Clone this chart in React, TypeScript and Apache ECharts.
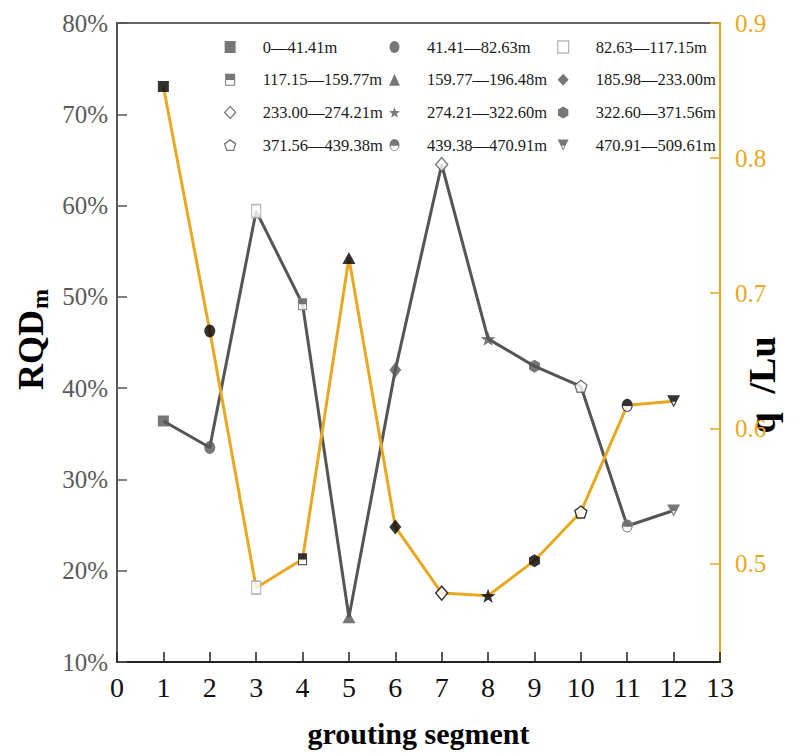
import React, { useEffect, useRef } from 'react';
import * as echarts from 'echarts';

// Depth interval of each grouting segment (legend entries, in segment order)
const segmentLabels = [
  '0—41.41m',
  '41.41—82.63m',
  '82.63—117.15m',
  '117.15—159.77m',
  '159.77—196.48m',
  '185.98—233.00m',
  '233.00—274.21m',
  '274.21—322.60m',
  '322.60—371.56m',
  '371.56—439.38m',
  '439.38—470.91m',
  '470.91—509.61m',
];
const segmentNo = [1, 2, 3, 4, 5, 6, 7, 8, 9, 10, 11, 12];
// RQDm (%) per segment, left axis
const rqdValues = [36.4, 33.5, 59.4, 49.2, 14.9, 42.0, 64.5, 45.4, 42.4, 40.2, 24.9, 26.6];
// q (Lu) per segment, right axis
const qLuValues = [0.853, 0.672, 0.482, 0.503, 0.726, 0.527, 0.478, 0.476, 0.502, 0.538, 0.617, 0.62];
const qLuTicks = [0.5, 0.6, 0.7, 0.8, 0.9];

const GRAY = '#555555';
const YELLOW = '#E8A822';
const FONT = '"Liberation Serif", "Times New Roman", serif';

// Marker outlines
const ELLIPSE = 'path://M0 6A5 6 0 0 1 10 6A5 6 0 0 1 0 6Z';
const DOWN_TRI = 'path://M0 0L12 0L6 12Z';
const STAR =
  'path://M10 0L12.35 6.76L19.51 6.91L13.8 11.24L15.88 18.09L10 14L4.12 18.09L6.2 11.24L0.49 6.91L7.65 6.76Z';
const HEX = 'path://M10 0L18.66 5L18.66 15L10 20L1.34 15L1.34 5Z';
const PENT = 'path://M10 0L19.51 6.91L15.88 18.09L4.12 18.09L0.49 6.91Z';
// Half-filled markers: solid upper half, outlined lower half (inner hole)
const HALF_RECT = 'path://M0 0L10 0L10 12L0 12Z M1 6.2L1 11L9 11L9 6.2Z';
const HALF_ELLIPSE = 'path://M0 6A5 6 0 0 1 10 6A5 6 0 0 1 0 6Z M1.1 6.6A3.9 4.6 0 0 0 8.9 6.6Z';
const HALF_DOWN_TRI = 'path://M0 0L12 0L6 12Z M4.5 6.6L6 9.7L7.5 6.6Z';

type Marker = {
  symbol: string;
  size: [number, number];
  fill: 'solid' | 'open' | 'half';
  edge?: string;
  half?: string;
};

const markers: Marker[] = [
  { symbol: 'rect', size: [11, 11], fill: 'solid' },
  { symbol: ELLIPSE, size: [11, 13], fill: 'solid' },
  { symbol: 'rect', size: [9, 13], fill: 'open', edge: '#a8a8a8' },
  { symbol: 'rect', size: [9, 12], fill: 'half', half: HALF_RECT },
  { symbol: 'triangle', size: [13, 12], fill: 'solid' },
  { symbol: 'diamond', size: [12, 15], fill: 'solid' },
  { symbol: 'diamond', size: [12, 14], fill: 'open' },
  { symbol: STAR, size: [15, 14], fill: 'solid' },
  { symbol: HEX, size: [11, 13], fill: 'solid' },
  { symbol: PENT, size: [12, 12], fill: 'open' },
  { symbol: ELLIPSE, size: [11, 13], fill: 'half', half: HALF_ELLIPSE },
  { symbol: DOWN_TRI, size: [13, 12], fill: 'half', half: HALF_DOWN_TRI },
];

function markerSeries(values: number[], yAxisIndex: number, ink: string) {
  const out: any[] = [];
  markers.forEach((m, i) => {
    const point = [[segmentNo[i], values[i]]];
    out.push({
      type: 'scatter',
      name: segmentLabels[i],
      yAxisIndex,
      data: point,
      symbol: m.symbol,
      symbolSize: m.size,
      z: 4,
      emphasis: { disabled: true },
      itemStyle:
        m.fill === 'solid'
          ? { color: ink, borderWidth: 0 }
          : m.fill === 'open'
          ? { color: '#ffffff', borderColor: m.edge ?? ink, borderWidth: 1.4 }
          : { color: '#ffffff', borderWidth: 0 },
    });
    if (m.fill === 'half') {
      out.push({
        type: 'scatter',
        name: segmentLabels[i],
        yAxisIndex,
        data: point,
        symbol: m.half,
        symbolSize: m.size,
        z: 5,
        emphasis: { disabled: true },
        itemStyle: { color: ink, borderWidth: 0 },
      });
    }
  });
  return out;
}

function legendColumn(indices: number[], left: number) {
  return {
    orient: 'vertical',
    left,
    top: 32,
    itemWidth: 11,
    itemHeight: 12,
    itemGap: 12.7,
    selectedMode: false,
    itemStyle: { borderWidth: 1.3 },
    textStyle: {
      fontFamily: FONT,
      fontSize: 16.5,
      color: '#1a1a1a',
      lineHeight: 20,
      padding: [0, 0, 0, 22],
    },
    data: indices.map((i) => {
      const m = markers[i];
      if (m.fill === 'half') {
        return { name: segmentLabels[i], icon: m.half, itemStyle: { color: GRAY, borderWidth: 0 } };
      }
      return { name: segmentLabels[i] };
    }),
  };
}

export default function App() {
  const ref = useRef<HTMLDivElement>(null);

  useEffect(() => {
    document.body.style.margin = '0';
    if (!ref.current) return;
    const chart = echarts.init(ref.current, null, { renderer: 'svg' });

    const option: any = {
      animation: false,
      backgroundColor: '#ffffff',
      grid: {
        left: 117,
        right: 80,
        top: 23,
        bottom: 94,
        show: true,
        borderColor: '#333333',
        borderWidth: 1.5,
        outerBoundsMode: 'none',
      },
      legend: [
        legendColumn([0, 3, 6, 9], 219),
        legendColumn([1, 4, 7, 10], 384),
        legendColumn([2, 5, 8, 11], 552),
      ],
      xAxis: {
        type: 'value',
        min: 0,
        max: 13,
        interval: 1,
        axisLine: { show: true, onZero: false, lineStyle: { color: '#222222', width: 2 } },
        axisTick: { show: true, inside: true, length: 10, lineStyle: { color: '#222222', width: 1.5 } },
        axisLabel: { color: '#111111', fontSize: 28, fontFamily: FONT, margin: 11 },
        splitLine: { show: false },
        name: 'grouting segment',
        nameLocation: 'middle',
        nameGap: 56,
        nameTextStyle: { fontFamily: FONT, fontWeight: 'bold', fontSize: 30, color: '#000000' },
      },
      yAxis: [
        {
          type: 'value',
          position: 'left',
          min: 10,
          max: 80,
          interval: 10,
          axisLine: { show: true, lineStyle: { color: GRAY, width: 2 } },
          axisTick: { show: true, inside: true, length: 10, lineStyle: { color: GRAY, width: 1.5 } },
          axisLabel: { formatter: '{value}%', color: '#5a5a5a', fontSize: 25, fontFamily: FONT, margin: 9 },
          splitLine: { show: false },
        },
        {
          type: 'value',
          position: 'right',
          min: 0.427,
          max: 0.9,
          axisLine: { show: true, lineStyle: { color: YELLOW, width: 2 } },
          axisTick: {
            show: true,
            inside: true,
            length: 10,
            customValues: qLuTicks,
            lineStyle: { color: YELLOW, width: 1.5 },
          },
          axisLabel: {
            customValues: qLuTicks,
            formatter: (v: number) => v.toFixed(1),
            color: YELLOW,
            fontSize: 25,
            fontFamily: FONT,
            margin: 15,
          },
          splitLine: { show: false },
        },
      ],
      graphic: [
        {
          type: 'group',
          x: 31,
          y: 338,
          rotation: Math.PI / 2,
          children: [
            {
              type: 'text',
              x: 28,
              y: 0,
              style: {
                text: 'RQD',
                align: 'right',
                verticalAlign: 'middle',
                fontFamily: FONT,
                fontWeight: 'bold',
                fontSize: 36,
                fill: '#000000',
              },
            },
            {
              type: 'text',
              x: 29,
              y: 9,
              style: {
                text: 'm',
                align: 'left',
                verticalAlign: 'middle',
                fontFamily: FONT,
                fontWeight: 'bold',
                fontSize: 24,
                fill: '#000000',
              },
            },
          ],
        },
        {
          type: 'text',
          x: 762,
          y: 385,
          rotation: Math.PI / 2,
          style: {
            text: 'q  /Lu',
            align: 'center',
            verticalAlign: 'middle',
            fontFamily: FONT,
            fontWeight: 'bold',
            fontSize: 38,
            fill: '#000000',
          },
        },
      ],
      series: [
        {
          type: 'line',
          name: 'RQDm',
          yAxisIndex: 0,
          data: segmentNo.map((x, i) => [x, rqdValues[i]]),
          symbol: 'none',
          lineStyle: { color: GRAY, width: 3 },
          emphasis: { disabled: true },
          z: 2,
        },
        {
          type: 'line',
          name: 'q/Lu',
          yAxisIndex: 1,
          data: segmentNo.map((x, i) => [x, qLuValues[i]]),
          symbol: 'none',
          lineStyle: { color: YELLOW, width: 3 },
          emphasis: { disabled: true },
          z: 3,
        },
        ...markerSeries(rqdValues, 0, GRAY),
        ...markerSeries(qLuValues, 1, '#000000'),
      ],
    };

    chart.setOption(option);
    return () => chart.dispose();
  }, []);

  return <div ref={ref} style={{ width: 800, height: 756 }} />;
}
